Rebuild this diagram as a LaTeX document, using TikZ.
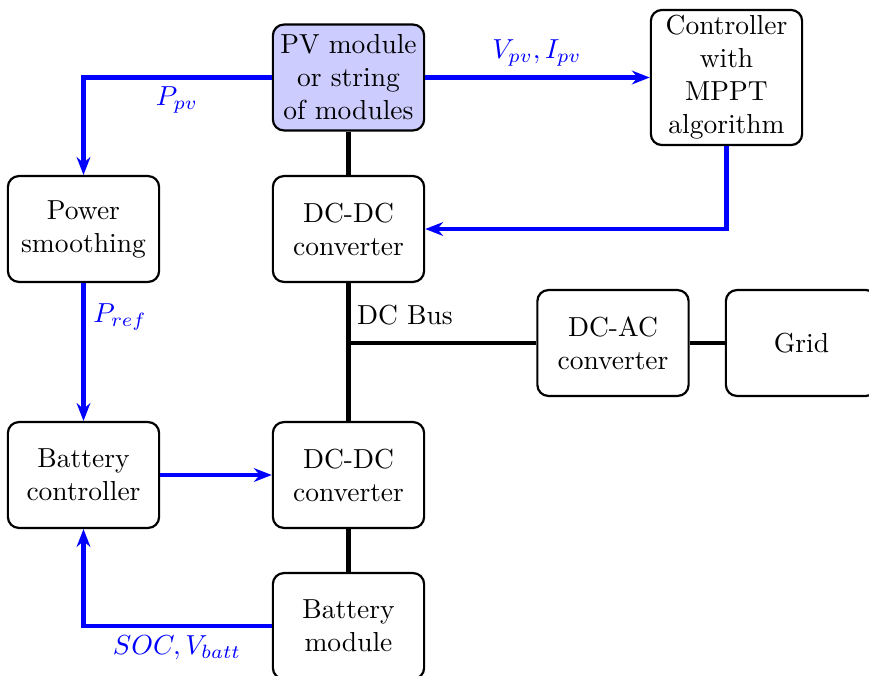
\documentclass[tikz,border=0pt]{standalone}
\usetikzlibrary{arrows.meta}
\begin{document}
\begin{tikzpicture}[x=0.363636pt,y=-0.363636pt,
  blk/.style={draw,line width=0.8pt,rounded corners=4pt,align=center,minimum width=55pt,minimum height=38.5pt,inner sep=2pt},
  sig/.style={blue,line width=1.6pt,-{Stealth[length=6.5pt,width=5pt]}},
  pwr/.style={black,line width=1.6pt},
  lbl/.style={text=blue}]
\useasboundingbox (0,0) rectangle (869,676);
\clip (0,0) rectangle (869,676);
\node[blk,fill=blue!20] (pv) at (348.5,77.5) {PV module\\or string\\of modules};
\node[blk] (ctl) at (726.5,77.5) {Controller\\with\\MPPT\\algorithm};
\node[blk] (ps) at (83.5,229) {Power\\smoothing};
\node[blk] (dc1) at (348.5,229) {DC-DC\\converter};
\node[blk] (dcac) at (613,343) {DC-AC\\converter};
\node[blk] (grid) at (801.5,343) {Grid};
\node[blk] (bc) at (83.5,475) {Battery\\controller};
\node[blk] (dc2) at (348.5,475) {DC-DC\\converter};
\node[blk] (bm) at (348.5,626) {Battery\\module};
\coordinate (bus) at (dc1.center |- dcac.west);
\draw[pwr] (pv.south) -- (dc1.north);
\draw[pwr] (dc1.south) -- (dc2.north);
\draw[pwr] (bus) -- (dcac.west);
\draw[pwr] (dcac.east) -- (grid.west);
\draw[pwr] (dc2.south) -- (bm.north);
\draw[sig] (pv.west) -| (ps.north);
\draw[sig] (pv.east) -- (ctl.west);
\draw[sig] (ctl.south) |- (dc1.east);
\draw[sig] (ps.south) -- (bc.north);
\draw[sig] (bc.east) -- (dc2.west);
\draw[sig] (bm.west) -| (bc.south);
\node[lbl] (lppv) at (177,100) {$P_{pv}$};
\node[lbl] (lvi) at (537,53) {$V_{pv}, I_{pv}$};
\node[lbl] (lpref) at (120,317) {$P_{ref}$};
\node[lbl] (lsoc) at (177,648) {$SOC, V_{batt}$};
\node (ldc) at (405,315) {DC Bus};
\end{tikzpicture}
\end{document}
